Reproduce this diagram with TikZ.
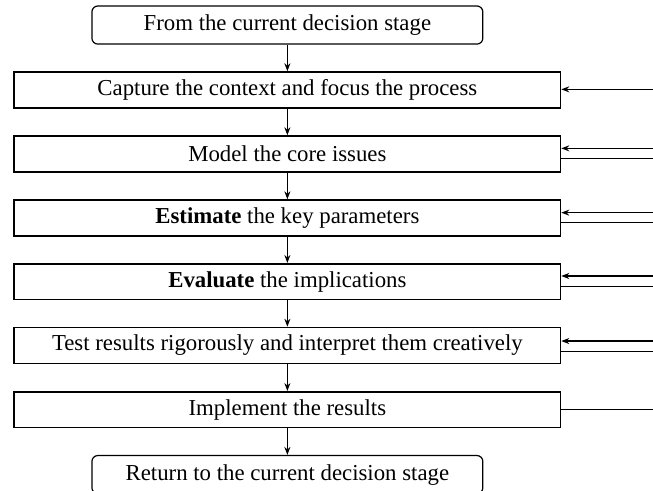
\documentclass[tikz,border=0pt]{standalone}
\usepackage{fontspec}
\setmainfont{Liberation Serif}
\usetikzlibrary{arrows.meta}

\begin{document}
\begin{tikzpicture}[
    stage/.style={rectangle, draw, rounded corners=3pt, line width=0.6pt, minimum width=6.87cm, minimum height=0.67cm, align=center},
    block/.style={rectangle, draw, line width=0.75pt, minimum width=9.6cm, minimum height=0.63cm, align=center},
    arrow/.style={-{Stealth[length=4pt,width=3pt]}, line width=0.7pt},
    link/.style={line width=0.7pt},
    font=\fontsize{11.4}{13}\selectfont
]

% Frame
\useasboundingbox (0,0) rectangle (11.475,-8.628);

% Entry stage
\node[stage] (from) at (5.05,-0.44) {From the current decision stage};

% Process steps
\node[block] (capture) at (5.05,-1.58) {Capture the context and focus the process};
\node[block] (model) at (5.05,-2.705) {Model the core issues};
\node[block] (estimate) at (5.05,-3.83) {\textbf{Estimate} the key parameters};
\node[block] (evaluate) at (5.05,-4.95) {\textbf{Evaluate} the implications};
\node[block] (test) at (5.05,-6.07) {Test results rigorously and interpret them creatively};
\node[block] (implement) at (5.05,-7.2) {Implement the results};

% Exit stage
\node[stage] (back) at (5.05,-8.34) {Return to the current decision stage};

% Arrows down the chain
\draw[arrow] (from) -- (capture);
\draw[arrow] (capture) -- (model);
\draw[arrow] (model) -- (estimate);
\draw[arrow] (estimate) -- (evaluate);
\draw[arrow] (evaluate) -- (test);
\draw[arrow] (test) -- (implement);
\draw[arrow] (implement) -- (back);

% Loop ends on the right
\coordinate (in1) at (11.6,-1.57);
\coordinate (in2) at (11.6,-2.607);
\coordinate (in3) at (11.6,-3.737);
\coordinate (in4) at (11.6,-4.85);
\coordinate (in5) at (11.6,-5.993);
\coordinate (out2) at (11.6,-2.789);
\coordinate (out3) at (11.6,-3.913);
\coordinate (out4) at (11.6,-5.038);
\coordinate (out5) at (11.6,-6.18);
\coordinate (out6) at (11.6,-7.193);

% Feedback into each step
\draw[arrow] (in1) -- (in1 -| capture.east);
\draw[arrow] (in2) -- (in2 -| model.east);
\draw[arrow] (in3) -- (in3 -| estimate.east);
\draw[arrow] (in4) -- (in4 -| evaluate.east);
\draw[arrow] (in5) -- (in5 -| test.east);

% Feedback out of each step
\draw[link] (out2 -| model.east) -- (out2);
\draw[link] (out3 -| estimate.east) -- (out3);
\draw[link] (out4 -| evaluate.east) -- (out4);
\draw[link] (out5 -| test.east) -- (out5);
\draw[link] (out6 -| implement.east) -- (out6);

\end{tikzpicture}
\end{document}
